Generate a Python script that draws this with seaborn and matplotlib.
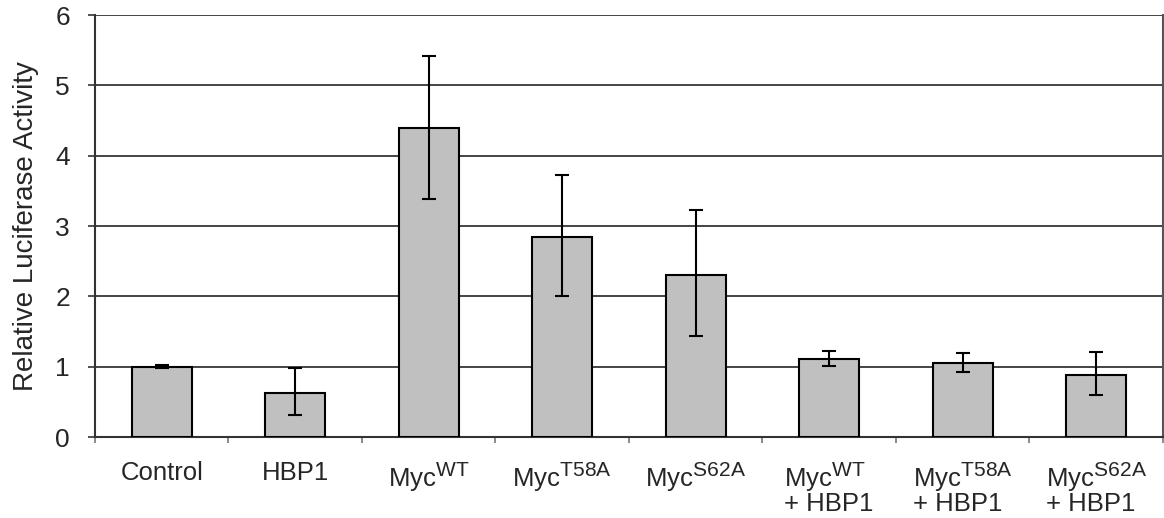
import matplotlib
matplotlib.use("Agg")
import matplotlib.pyplot as plt
import matplotlib._mathtext as _mt
import seaborn as sns
import numpy as np
import pandas as pd

categories = ["Control", "HBP1", "Myc$^{\\mathrm{WT}}$", "Myc$^{\\mathrm{T58A}}$", "Myc$^{\\mathrm{S62A}}$",
              "Myc$^{\\mathrm{WT}}$\n+ HBP1", "Myc$^{\\mathrm{T58A}}$\n+ HBP1", "Myc$^{\\mathrm{S62A}}$\n+ HBP1"]
values = [1.00, 0.63, 4.40, 2.85, 2.30, 1.11, 1.05, 0.89]
err_low = [0.98, 0.31, 3.39, 2.01, 1.44, 1.01, 0.92, 0.60]
err_high = [1.02, 0.98, 5.42, 3.72, 3.23, 1.23, 1.20, 1.21]
yticks = [0, 1, 2, 3, 4, 5, 6]

# larger superscripts, as in the reference
_mt.SHRINK_FACTOR = 0.82

sns.set_theme(style="white")
plt.rcParams['font.family'] = ['Liberation Sans', 'DejaVu Sans']
plt.rcParams['mathtext.fontset'] = 'custom'
plt.rcParams['mathtext.rm'] = 'Liberation Sans'
plt.rcParams['mathtext.it'] = 'Liberation Sans'
plt.rcParams['mathtext.bf'] = 'Liberation Sans'

df = pd.DataFrame({"cat": categories, "val": values})

fig = plt.figure(figsize=(11.64, 5.18), dpi=100)
ax = fig.add_axes([0.0816, 0.156, 0.9174, 0.815])

sns.barplot(data=df, x="cat", y="val", ax=ax, color="#c0c0c0", saturation=1,
            width=0.45, edgecolor="black", linewidth=1.5, errorbar=None, zorder=3)

x = np.arange(len(categories))
vals = np.array(values)
yerr = np.vstack([vals - np.array(err_low), np.array(err_high) - vals])
ax.errorbar(x, vals, yerr=yerr, fmt="none", ecolor="black", elinewidth=1.5,
            capsize=5, capthick=1.5, zorder=4)

ax.set_ylim(0, 6)
ax.set_xlim(-0.5, len(categories) - 0.5)
ax.set_yticks(yticks)
ax.set_yticklabels([str(t) for t in yticks], fontsize=19)
for t in yticks[1:]:
    ax.axhline(t, color="#444444", lw=1.4, zorder=1)

ax.set_xticks(x)
ax.set_xticklabels(categories, fontsize=18.5, multialignment="left", va="top", linespacing=0.85)
ax.set_xticks(np.arange(-0.5, len(categories) + 0.5, 1), minor=True)
ax.tick_params(axis="x", which="major", length=0, pad=17)
ax.tick_params(axis="x", which="minor", length=4.5, width=1.2, color="#777777", direction="out", bottom=True)
ax.tick_params(axis="y", which="major", length=5, width=1.2, color="#333333", direction="out", left=True, pad=13)

ax.set_xlabel("")
ax.set_ylabel("Relative Luciferase Activity", fontsize=20, labelpad=12)

for s in ["left", "bottom"]:
    ax.spines[s].set_visible(True)
    ax.spines[s].set_color("#333333")
    ax.spines[s].set_linewidth(1.5)
ax.spines["right"].set_visible(True)
ax.spines["right"].set_color("#555555")
ax.spines["right"].set_linewidth(1.5)
ax.spines["top"].set_visible(False)

fig.savefig("out.png", dpi=100)
